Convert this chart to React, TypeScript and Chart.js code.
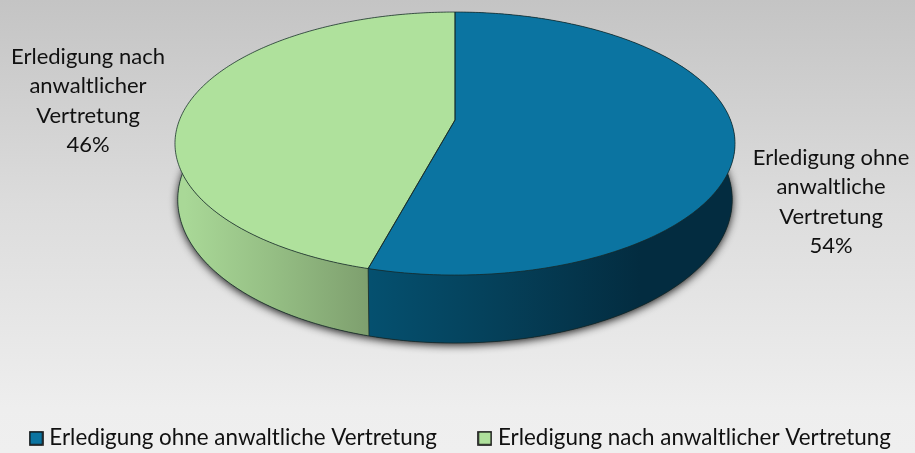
import React, { useEffect, useRef } from "react";
import { Chart, registerables } from "chart.js";

Chart.register(...registerables);

const categories = ["Erledigung ohne anwaltliche Vertretung", "Erledigung nach anwaltlicher Vertretung"];
const shares = [54.2, 45.8];
const topColors = ["#0b74a1", "#afe19c"];
const wallStops = [
  ["#05506f", "#053f58", "#032c40"],
  ["#a9d897", "#94bd83", "#7e9f6e"],
];
const calloutLines = [
  ["Erledigung ohne", "anwaltliche", "Vertretung", "54%"],
  ["Erledigung nach", "anwaltlicher", "Vertretung", "46%"],
];
const FONT = "Lato, Carlito, sans-serif";
const CALLOUT_SIZE = 22;
const LEGEND_SIZE = 22.4;

const geo = { cx: 455, apexY: 120, sx: 275.5, sy: 127.3, a: 0.179, wallDrop: 54, wallScaleX: 0.99, wallScaleY: 1.09 };
const calloutPos = [
  { x: 831, y: 158, step: 29.3 },
  { x: 88, y: 56.5, step: 29.5 },
];

function project(theta: number, wall: boolean) {
  const u = Math.sin(theta);
  const v = -Math.cos(theta);
  const d = 1 - geo.a * v;
  const fx = wall ? geo.wallScaleX : 1;
  const fy = wall ? geo.wallScaleY : 1;
  return {
    x: geo.cx + (fx * geo.sx * u) / d,
    y: geo.apexY + (wall ? geo.wallDrop : 0) + (fy * geo.sy * v) / d,
  };
}

function arcPoints(from: number, to: number, wall: boolean) {
  const n = Math.max(8, Math.ceil(Math.abs(to - from) * 80));
  const pts = [];
  for (let i = 0; i <= n; i++) pts.push(project(from + ((to - from) * i) / n, wall));
  return pts;
}

function trace(ctx: CanvasRenderingContext2D, pts: { x: number; y: number }[], move = true) {
  pts.forEach((p, i) => {
    if (i === 0 && move) ctx.moveTo(p.x, p.y);
    else ctx.lineTo(p.x, p.y);
  });
}

function legendSwatch(color: string) {
  const c = document.createElement("canvas");
  c.width = 15;
  c.height = 15;
  const x = c.getContext("2d")!;
  x.fillStyle = color;
  x.fillRect(1, 1, 13, 13);
  x.strokeStyle = "#111";
  x.lineWidth = 1.6;
  x.strokeRect(1, 1, 13, 13);
  return c;
}

const backdrop = {
  id: "backdrop",
  beforeDraw(chart: any) {
    const { ctx, width, height } = chart;
    const g = ctx.createLinearGradient(0, 0, 0, height);
    g.addColorStop(0, "#c4c4c4");
    g.addColorStop(0.45, "#dcdcdc");
    g.addColorStop(0.9, "#eeeeee");
    g.addColorStop(1, "#efefef");
    ctx.save();
    ctx.fillStyle = g;
    ctx.fillRect(0, 0, width, height);
    ctx.restore();
  },
};

const pie3d = {
  id: "pie3d",
  beforeDatasetDraw(chart: any) {
    const ctx: CanvasRenderingContext2D = chart.ctx;
    const arcs = chart.getDatasetMeta(0).data;
    const lineColor = "rgba(20,40,40,0.75)";
    ctx.save();
    ctx.lineJoin = "round";

    // soft shadow under the base
    ctx.save();
    ctx.shadowColor = "rgba(0,0,0,0.9)";
    ctx.shadowBlur = 8;
    ctx.shadowOffsetY = 2;
    ctx.fillStyle = "#222";
    ctx.beginPath();
    trace(ctx, arcPoints(0, Math.PI * 2, true));
    ctx.closePath();
    ctx.fill();
    ctx.restore();

    // walls
    arcs.forEach((arc: any, i: number) => {
      const t0 = arc.startAngle + Math.PI / 2;
      const t1 = arc.endAngle + Math.PI / 2;
      const stops = wallStops[i];
      const g = i === 0 ? ctx.createLinearGradient(370, 0, 640, 0) : ctx.createLinearGradient(185, 0, 370, 0);
      g.addColorStop(0, stops[0]);
      g.addColorStop(0.5, stops[1]);
      g.addColorStop(1, stops[2]);
      ctx.fillStyle = g;
      ctx.beginPath();
      trace(ctx, arcPoints(t0, t1, false));
      trace(ctx, arcPoints(t1, t0, true), false);
      ctx.closePath();
      ctx.fill();
    });

    // wall outlines
    ctx.strokeStyle = lineColor;
    ctx.lineWidth = 1;
    ctx.beginPath();
    trace(ctx, arcPoints(0, Math.PI * 2, true));
    ctx.closePath();
    ctx.stroke();
    const seam = arcs[0].endAngle + Math.PI / 2;
    const a = project(seam, false);
    const b = project(seam, true);
    ctx.beginPath();
    ctx.moveTo(a.x, a.y);
    ctx.lineTo(b.x, b.y);
    ctx.stroke();

    // top faces
    arcs.forEach((arc: any, i: number) => {
      const t0 = arc.startAngle + Math.PI / 2;
      const t1 = arc.endAngle + Math.PI / 2;
      ctx.fillStyle = topColors[i];
      ctx.beginPath();
      ctx.moveTo(geo.cx, geo.apexY);
      trace(ctx, arcPoints(t0, t1, false), false);
      ctx.closePath();
      ctx.fill();
    });
    arcs.forEach((arc: any) => {
      const t0 = arc.startAngle + Math.PI / 2;
      const t1 = arc.endAngle + Math.PI / 2;
      ctx.strokeStyle = lineColor;
      ctx.lineWidth = 1;
      ctx.beginPath();
      ctx.moveTo(geo.cx, geo.apexY);
      trace(ctx, arcPoints(t0, t1, false), false);
      ctx.closePath();
      ctx.stroke();
    });
    ctx.restore();
    return false;
  },
  afterDatasetsDraw(chart: any) {
    const ctx: CanvasRenderingContext2D = chart.ctx;
    ctx.save();
    ctx.fillStyle = "#111";
    ctx.font = `${CALLOUT_SIZE}px ${FONT}`;
    ctx.textAlign = "center";
    ctx.textBaseline = "middle";
    calloutLines.forEach((lines, i) => {
      const p = calloutPos[i];
      lines.forEach((line, j) => ctx.fillText(line, p.x, p.y + j * p.step));
    });
    ctx.restore();
  },
};

export default function App() {
  const ref = useRef<HTMLCanvasElement>(null);
  useEffect(() => {
    const swatches = topColors.map(legendSwatch);
    const chart = new Chart(ref.current!, {
      type: "pie",
      data: {
        labels: categories,
        datasets: [{ data: shares, backgroundColor: topColors }],
      },
      options: {
        animation: false,
        responsive: false,
        layout: { padding: { left: -40, right: -50, bottom: -6.4 } },
        plugins: {
          tooltip: { enabled: false },
          legend: {
            position: "bottom",
            labels: {
              color: "#111",
              font: { family: FONT, size: LEGEND_SIZE },
              usePointStyle: true,
              pointStyleWidth: 4,
              boxHeight: 13,
              padding: 46,
              generateLabels: () =>
                categories.map((text, i) => ({
                  text,
                  fillStyle: topColors[i],
                  strokeStyle: "#111",
                  pointStyle: swatches[i],
                  lineWidth: 1.5,
                  fontColor: "#111",
                  index: i,
                  hidden: false,
                })),
            },
          },
        },
      },
      plugins: [backdrop, pie3d],
    } as any);
    return () => chart.destroy();
  }, []);
  return (
    <div style={{ position: "absolute", left: 0, top: 0, width: 915, height: 453 }}>
      <canvas ref={ref} width={915} height={453} style={{ display: "block" }} />
    </div>
  );
}
